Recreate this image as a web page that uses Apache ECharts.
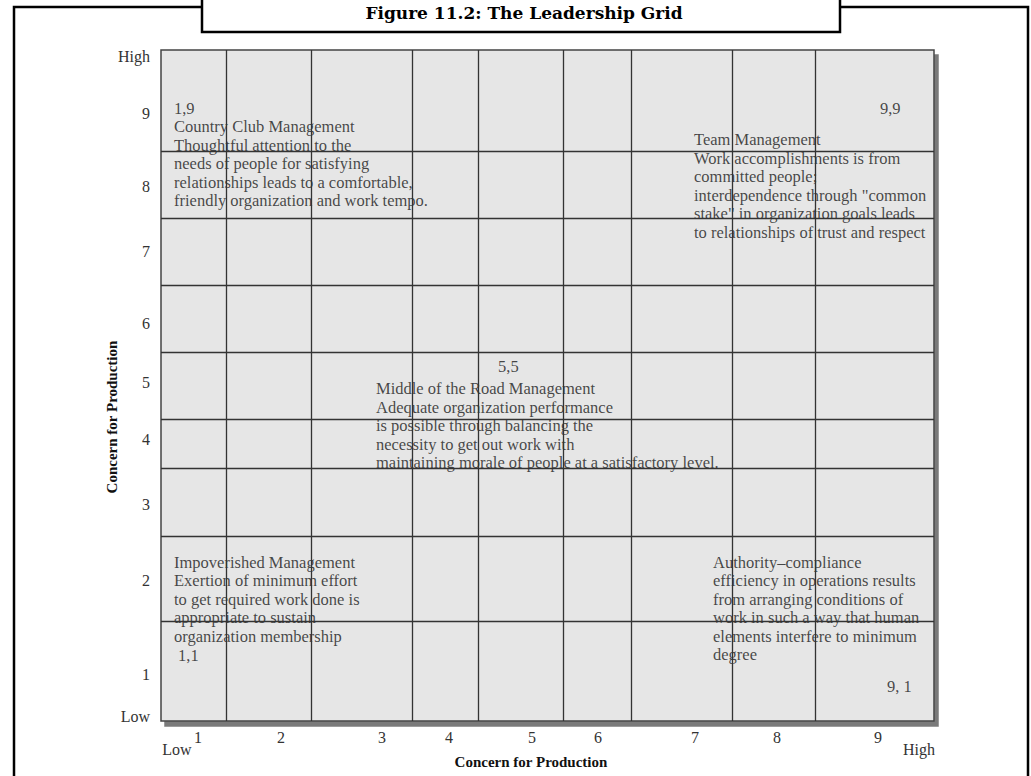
<!DOCTYPE html>
<html>
<head>
<meta charset="utf-8">
<script src="https://cdn.jsdelivr.net/npm/echarts@6/dist/echarts.min.js"></script>
<style>html,body{margin:0;padding:0;background:#fff;}#chart{width:1031px;height:776px;}</style>
</head>
<body>
<div id="chart"></div>
<script>
// Axis scale: both axes run 0..10 (grid units of the diagram)
const xCellEdges = [0.854, 1.953, 3.247, 4.114, 5.213, 6.080, 7.387, 8.473];
const yCellEdges = [8.495, 7.496, 6.498, 5.499, 4.486, 3.756, 2.757, 1.490];
const xTickLabels = ['1', '2', '3', '4', '5', '6', '7', '8', '9'];
const xTickPos = [0.479, 1.552, 2.859, 3.726, 4.799, 5.653, 6.908, 7.969, 9.276];
const xEndLabels = ['Low', 'High'];
const xEndPos = [0.207, 9.806];
const yTickLabels = ['Low', '1', '2', '3', '4', '5', '6', '7', '8', '9', 'High'];
const yTickPos = [0.06, 0.70, 2.10, 3.22, 4.19, 5.04, 5.93, 7.00, 7.97, 9.06, 9.90];

const annotationTexts = [
  '1,9\nCountry Club Management\nThoughtful attention to the\nneeds of people for satisfying\nrelationships leads to a comfortable,\nfriendly organization and work tempo.',
  '9,9',
  'Team Management\nWork accomplishments is from\ncommitted people;\ninterdependence through "common\nstake" in organization goals leads\nto relationships of trust and respect',
  '5,5',
  'Middle of the Road Management\nAdequate organization performance\nis possible through balancing the\nnecessity to get out work with\nmaintaining morale of people at a satisfactory level.',
  'Impoverished Management\nExertion of minimum effort\nto get required work done is\nappropriate to sustain\norganization membership',
  '1,1',
  'Authority\u2013compliance\nefficiency in operations results\nfrom arranging conditions of\nwork in such a way that human\nelements interfere to minimum\ndegree',
  '9, 1'
];
const annotationX = [0.168, 9.301, 6.895, 4.360, 2.781, 0.168, 0.22, 7.141, 9.392];
const annotationY = [9.27, 9.27, 8.797, 5.428, 5.086, 2.507, 1.121, 2.507, 0.659];

const FONT = '"Liberation Serif", "Times New Roman", serif';

const chart = echarts.init(document.getElementById('chart'), null, {renderer: 'svg'});

const annData = annotationTexts.map((t, i) => ({value: [annotationX[i], annotationY[i]], text: t}));

const option = {
  backgroundColor: '#fff',
  animation: false,
  grid: {
    show: true,
    left: 161, top: 50, right: 97, bottom: 55,
    containLabel: false,
    backgroundColor: '#e6e6e6',
    borderColor: '#444',
    borderWidth: 1.5,
    shadowColor: '#7a7a7a',
    shadowBlur: 0,
    shadowOffsetX: 4,
    shadowOffsetY: 5
  },
  xAxis: [{
    type: 'value', min: 0, max: 10, position: 'bottom',
    axisLine: {show: false}, axisTick: {show: false}, splitLine: {show: false},
    axisLabel: {
      customValues: xTickPos,
      formatter: (v, i) => { const k = xTickPos.indexOf(v); return xTickLabels[k >= 0 ? k : i]; },
      margin: 8, color: '#333', fontFamily: FONT, fontSize: 16
    },
    name: 'Concern for Production', nameLocation: 'middle', nameGap: 33, nameMoveOverlap: false,
    nameTextStyle: {fontFamily: FONT, fontSize: 15, fontWeight: 'bold', color: '#111', padding: [0, 33, 0, 0]}
  }, {
    type: 'value', min: 0, max: 10, position: 'bottom', offset: 0,
    axisLine: {show: false}, axisTick: {show: false}, splitLine: {show: false},
    axisLabel: {
      customValues: xEndPos,
      formatter: (v, i) => { const k = xEndPos.indexOf(v); return xEndLabels[k >= 0 ? k : i]; },
      margin: 20, color: '#333', fontFamily: FONT, fontSize: 16
    }
  }],
  yAxis: {
    type: 'value', min: 0, max: 10,
    axisLine: {show: false}, axisTick: {show: false}, splitLine: {show: false},
    axisLabel: {
      customValues: yTickPos,
      formatter: (v, i) => { const k = yTickPos.indexOf(v); return yTickLabels[k >= 0 ? k : i]; },
      margin: 11, color: '#333', fontFamily: FONT, fontSize: 16
    },
    name: 'Concern for Production', nameLocation: 'middle', nameGap: 42, nameRotate: 90, nameMoveOverlap: false,
    nameTextStyle: {fontFamily: FONT, fontSize: 15, fontWeight: 'bold', color: '#111', padding: [0, 63, 0, 0]}
  },
  series: [{
    type: 'scatter',
    symbolSize: 0,
    silent: true,
    data: annData,
    label: {
      show: true,
      position: [0, 0],
      align: 'left',
      verticalAlign: 'top',
      formatter: p => p.data.text,
      fontFamily: FONT,
      fontSize: 16.5,
      lineHeight: 18.5,
      color: '#1a1a1a'
    },
    markLine: {
      silent: true,
      symbol: ['none', 'none'],
      label: {show: false},
      lineStyle: {color: '#333', width: 1.3, type: 'solid'},
      emphasis: {disabled: true},
      data: xCellEdges.map(v => ({xAxis: v})).concat(yCellEdges.map(v => ({yAxis: v})))
    }
  }],
  graphic: [
    {type: 'rect', silent: true, shape: {x: 14, y: 7, width: 1014, height: 820},
     style: {fill: 'none', stroke: '#000', lineWidth: 2.5}},
    {type: 'rect', silent: true, shape: {x: 202, y: -10, width: 638, height: 42},
     style: {fill: '#fff', stroke: '#000', lineWidth: 2.5}},
    {type: 'text', silent: true, x: 524, y: 13,
     style: {text: 'Figure 11.2: The Leadership Grid', font: 'bold 17px "DejaVu Serif"',
             textAlign: 'center', textVerticalAlign: 'middle', fill: '#000'}}
  ]
};
chart.setOption(option);
</script>
</body>
</html>
